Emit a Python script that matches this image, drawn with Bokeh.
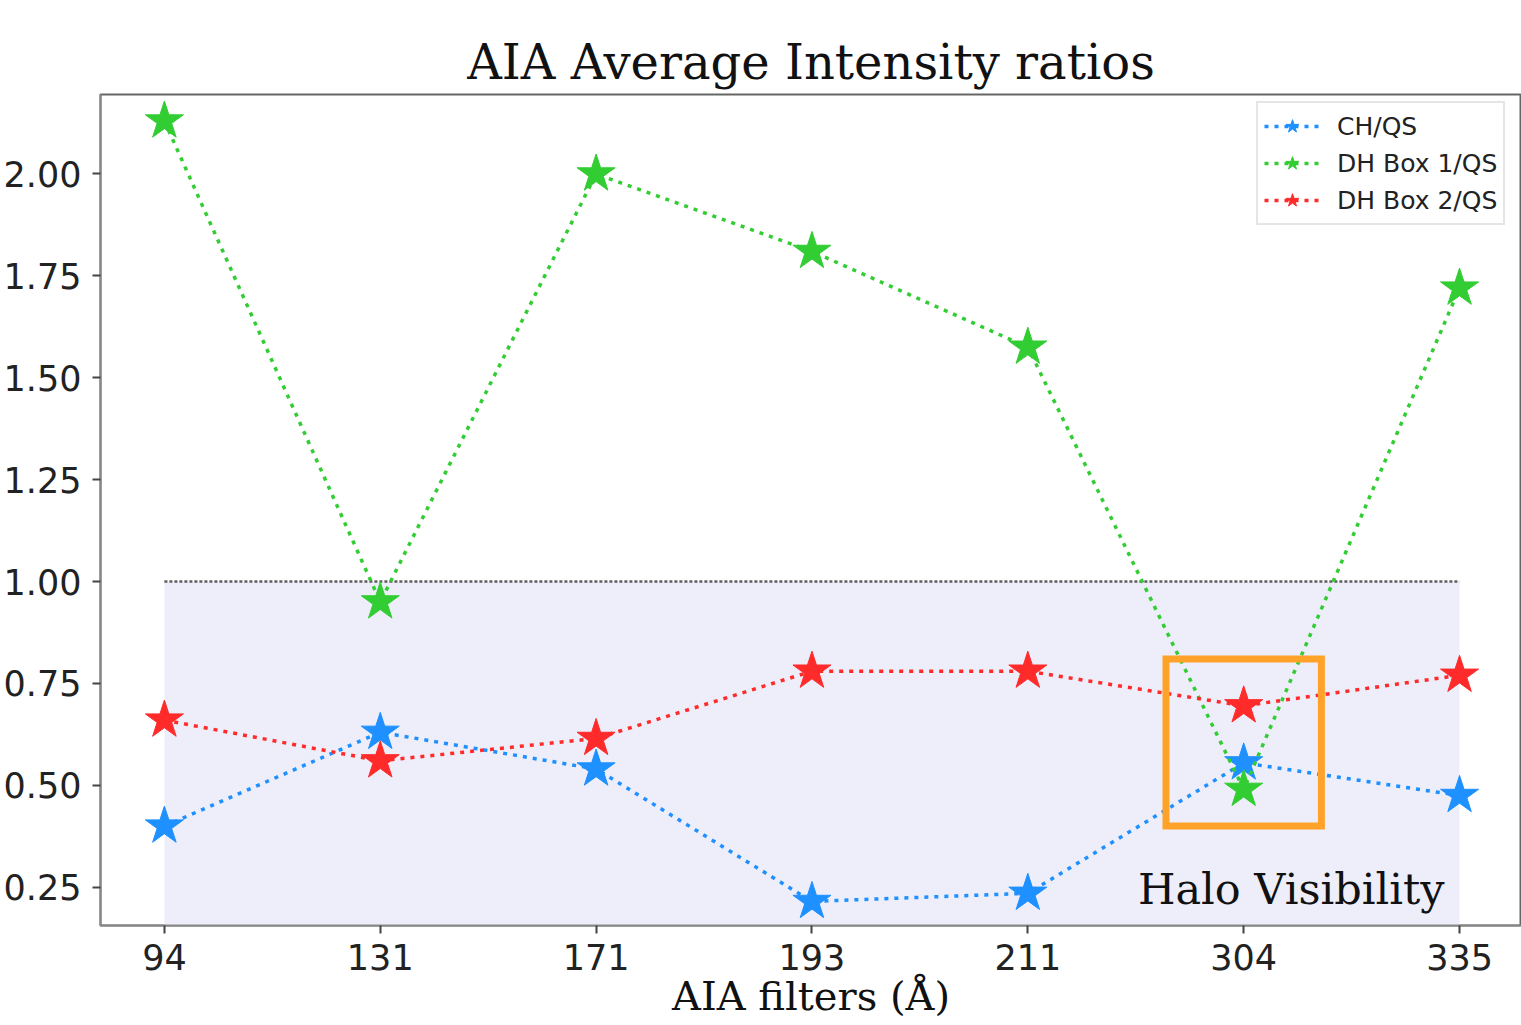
from bokeh.plotting import figure
from bokeh.models import (Range1d, FixedTicker, NumeralTickFormatter, Legend, LegendItem,
                          Label, ColumnDataSource)
from bokeh.embed import file_html
from bokeh.resources import INLINE

# ---- data ----
filters = ["94", "131", "171", "193", "211", "304", "335"]
ch_qs = [0.40, 0.63, 0.54, 0.215, 0.235, 0.555, 0.475]
dh1_qs = [2.13, 0.95, 2.00, 1.81, 1.575, 0.49, 1.72]
dh2_qs = [0.66, 0.56, 0.615, 0.78, 0.78, 0.695, 0.77]
series_names = ["CH/QS", "DH Box 1/QS", "DH Box 2/QS"]
y_ticks = [0.25, 0.50, 0.75, 1.00, 1.25, 1.50, 1.75, 2.00]
threshold = 1.0
highlight_filter = "304"
highlight_halfwidth = 0.36
highlight_low = 0.40
highlight_high = 0.81

xi = list(range(len(filters)))

p = figure(width=1521, height=1025, output_backend="svg", toolbar_location=None,
           x_range=Range1d(-0.296, 6.287), y_range=Range1d(0.156, 2.195),
           min_border_left=99, min_border_right=0, min_border_top=94, min_border_bottom=100)

p.title.text = "AIA Average Intensity ratios"
p.title.text_font = "DejaVu Serif"
p.title.text_font_size = "48px"
p.title.text_font_style = "normal"
p.title.align = "center"
p.title.text_color = "#111111"
p.title.standoff = 9

p.xgrid.visible = False
p.ygrid.visible = False
p.outline_line_color = "#666666"
p.outline_line_width = 2

# shaded region below threshold
band = ColumnDataSource(dict(x=[xi[0], xi[-1]], lo=[p.y_range.start - 1, p.y_range.start - 1],
                             hi=[threshold, threshold]))
p.varea(x="x", y1="lo", y2="hi", source=band, fill_color="#EEEEFA", fill_alpha=1.0)
p.line(x="x", y="hi", source=band, line_color="#444444", line_width=2.5, line_dash="3 2",
       line_alpha=0.85)

colors = ["#1E90FF", "#32CD32", "#FF2B2B"]
items = []
for name, vals, c in zip(series_names, [ch_qs, dh1_qs, dh2_qs], colors):
    src = ColumnDataSource(dict(x=xi, y=vals))
    l = p.line("x", "y", source=src, line_color=c, line_width=3.5, line_dash="4 6")
    s = p.scatter("x", "y", source=src, marker="star", size=40, fill_color=c, line_color=c)
    items.append(LegendItem(label=name, renderers=[l, s]))

# highlight box
hx = filters.index(highlight_filter)
p.quad(left=[hx - highlight_halfwidth], right=[hx + highlight_halfwidth],
       bottom=[highlight_low], top=[highlight_high], fill_color=None,
       line_color="#FFA229", line_width=7, line_join="miter")

p.add_layout(Label(x=hx - 0.49, y=0.245, text="Halo Visibility", text_font="DejaVu Serif",
                   text_font_size="43px", text_color="#111111", text_baseline="alphabetic"))

legend = Legend(items=items, location=(1156, 700), margin=0, padding=6,
                label_text_font="DejaVu Sans", label_text_font_size="25px",
                label_text_color="#222222", glyph_width=56, glyph_height=34, spacing=3,
                label_height=34, label_standoff=17,
                border_line_color="#CCCCCC", border_line_width=2,
                background_fill_color="white", background_fill_alpha=0.85)
p.add_layout(legend, "center")

# axes
p.xaxis.ticker = FixedTicker(ticks=xi)
p.xaxis.major_label_overrides = {i: f for i, f in zip(xi, filters)}
p.yaxis.ticker = FixedTicker(ticks=y_ticks)
p.yaxis.formatter = NumeralTickFormatter(format="0.00")
for ax in (p.xaxis[0], p.yaxis[0]):
    ax.major_label_text_font = "DejaVu Sans"
    ax.major_label_text_font_size = "35px"
    ax.major_label_text_color = "#222222"
    ax.major_tick_out = 8
    ax.major_tick_in = 0
    ax.minor_tick_out = 0
    ax.minor_tick_in = 0
    ax.major_tick_line_color = "#444444"
    ax.major_tick_line_width = 2
    ax.axis_line_color = "#888888"
    ax.axis_line_width = 2
p.xaxis.major_label_standoff = 10
p.yaxis.major_label_standoff = 11
p.xaxis.axis_label = "AIA filters (Å)"
p.xaxis.axis_label_text_font = "DejaVu Serif"
p.xaxis.axis_label_text_font_size = "40px"
p.xaxis.axis_label_text_font_style = "normal"
p.xaxis.axis_label_text_color = "#111111"
p.xaxis.axis_label_standoff = 0

open("out.html", "w").write(file_html(p, INLINE))
